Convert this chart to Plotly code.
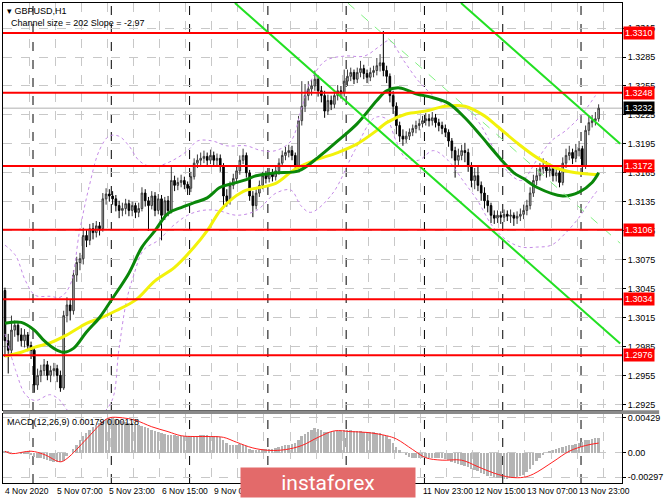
import plotly.graph_objects as go

# ---------------- data ----------------
first_open = 1.3043
close = [1.2991, 1.2981, 1.3002, 1.3007, 1.2997, 1.2991, 1.2997, 1.2986, 1.2981, 1.2945,
         1.2955, 1.2960, 1.2966, 1.2955, 1.2960, 1.2962, 1.2955, 1.2942, 1.3017, 1.3028,
         1.3022, 1.3059, 1.3072, 1.3076, 1.3100, 1.3095, 1.3107, 1.3103, 1.3110, 1.3107,
         1.3138, 1.3143, 1.3141, 1.3138, 1.3131, 1.3126, 1.3128, 1.3133, 1.3126, 1.3131,
         1.3124, 1.3128, 1.3144, 1.3136, 1.3131, 1.3141, 1.3126, 1.3138, 1.3121, 1.3136,
         1.3126, 1.3157, 1.3152, 1.3155, 1.3157, 1.3153, 1.3149, 1.3161, 1.3175, 1.3178,
         1.3180, 1.3182, 1.3178, 1.3183, 1.3178, 1.3180, 1.3172, 1.3141, 1.3136, 1.3152,
         1.3159, 1.3167, 1.3178, 1.3183, 1.3165, 1.3141, 1.3131, 1.3144, 1.3152, 1.3162,
         1.3159, 1.3165, 1.3161, 1.3167, 1.3175, 1.3183, 1.3186, 1.3188, 1.3183, 1.3172,
         1.3219, 1.3234, 1.3245, 1.3252, 1.3255, 1.3262, 1.3250, 1.3245, 1.3229, 1.3240,
         1.3236, 1.3245, 1.3250, 1.3248, 1.3260, 1.3265, 1.3269, 1.3262, 1.3269, 1.3273,
         1.3268, 1.3264, 1.3269, 1.3271, 1.3276, 1.3279, 1.3271, 1.3265, 1.3245, 1.3234,
         1.3214, 1.3203, 1.3200, 1.3203, 1.3207, 1.3211, 1.3214, 1.3216, 1.3219, 1.3221,
         1.3219, 1.3222, 1.3217, 1.3214, 1.3211, 1.3207, 1.3198, 1.3188, 1.3178, 1.3183,
         1.3188, 1.3186, 1.3172, 1.3157, 1.3162, 1.3152, 1.3144, 1.3136, 1.3131, 1.3121,
         1.3118, 1.3121, 1.3119, 1.3122, 1.3120, 1.3121, 1.3118, 1.3120, 1.3122, 1.3126,
         1.3131, 1.3144, 1.3157, 1.3162, 1.3169, 1.3172, 1.3167, 1.3169, 1.3162, 1.3165,
         1.3155, 1.3175, 1.3183, 1.3186, 1.3180, 1.3188, 1.3190, 1.3172, 1.3209, 1.3217,
         1.3219, 1.3221, 1.3232]
high = [1.3046, 1.2998, 1.3017, 1.3012, 1.3010, 1.3004, 1.3003, 1.3000, 1.2990, 1.2985,
        1.2962, 1.2966, 1.2972, 1.2970, 1.2965, 1.2968, 1.2966, 1.2960, 1.3022, 1.3036,
        1.3034, 1.3064, 1.3078, 1.3082, 1.3108, 1.3106, 1.3112, 1.3113, 1.3115, 1.3114,
        1.3144, 1.3149, 1.3148, 1.3146, 1.3142, 1.3136, 1.3134, 1.3138, 1.3137, 1.3135,
        1.3134, 1.3134, 1.3150, 1.3148, 1.3140, 1.3146, 1.3145, 1.3143, 1.3142, 1.3140,
        1.3141, 1.3172, 1.3162, 1.3160, 1.3163, 1.3161, 1.3156, 1.3166, 1.3180, 1.3184,
        1.3186, 1.3188, 1.3186, 1.3189, 1.3187, 1.3185, 1.3184, 1.3175, 1.3148, 1.3156,
        1.3164, 1.3172, 1.3183, 1.3190, 1.3186, 1.3168, 1.3146, 1.3149, 1.3157, 1.3166,
        1.3167, 1.3170, 1.3169, 1.3172, 1.3180, 1.3188, 1.3192, 1.3194, 1.3193, 1.3186,
        1.3224, 1.3260, 1.3257, 1.3260, 1.3262, 1.3271, 1.3266, 1.3255, 1.3250, 1.3246,
        1.3245, 1.3250, 1.3256, 1.3255, 1.3272, 1.3272, 1.3274, 1.3272, 1.3274, 1.3281,
        1.3277, 1.3272, 1.3274, 1.3276, 1.3284, 1.3288, 1.3312, 1.3276, 1.3268, 1.3250,
        1.3238, 1.3218, 1.3210, 1.3208, 1.3211, 1.3215, 1.3219, 1.3221, 1.3224, 1.3227,
        1.3226, 1.3228, 1.3226, 1.3221, 1.3218, 1.3215, 1.3210, 1.3201, 1.3192, 1.3190,
        1.3194, 1.3196, 1.3190, 1.3176, 1.3170, 1.3172, 1.3156, 1.3150, 1.3142, 1.3134,
        1.3126, 1.3126, 1.3125, 1.3127, 1.3126, 1.3127, 1.3124, 1.3125, 1.3128, 1.3132,
        1.3137, 1.3150, 1.3163, 1.3170, 1.3175, 1.3180, 1.3177, 1.3175, 1.3173, 1.3172,
        1.3168, 1.3181, 1.3190, 1.3193, 1.3190, 1.3195, 1.3198, 1.3193, 1.3214, 1.3224,
        1.3225, 1.3228, 1.3236]
low = [1.2974, 1.2957, 1.2975, 1.2995, 1.2990, 1.2985, 1.2984, 1.2980, 1.2972, 1.2937,
       1.2940, 1.2948, 1.2955, 1.2950, 1.2948, 1.2954, 1.2948, 1.2938, 1.2940, 1.3010,
       1.3012, 1.3018, 1.3052, 1.3064, 1.3070, 1.3088, 1.3090, 1.3096, 1.3098, 1.3100,
       1.3104, 1.3132, 1.3135, 1.3132, 1.3125, 1.3118, 1.3120, 1.3122, 1.3120, 1.3120,
       1.3118, 1.3119, 1.3125, 1.3130, 1.3105, 1.3127, 1.3120, 1.3122, 1.3095, 1.3116,
       1.3120, 1.3123, 1.3146, 1.3147, 1.3150, 1.3148, 1.3142, 1.3145, 1.3158, 1.3170,
       1.3173, 1.3175, 1.3172, 1.3174, 1.3172, 1.3172, 1.3166, 1.3129, 1.3130, 1.3132,
       1.3148, 1.3155, 1.3163, 1.3174, 1.3160, 1.3136, 1.3119, 1.3127, 1.3140, 1.3148,
       1.3154, 1.3155, 1.3156, 1.3157, 1.3163, 1.3171, 1.3178, 1.3181, 1.3178, 1.3167,
       1.3169, 1.3214, 1.3228, 1.3240, 1.3245, 1.3250, 1.3244, 1.3238, 1.3222, 1.3225,
       1.3230, 1.3232, 1.3240, 1.3242, 1.3244, 1.3255, 1.3260, 1.3257, 1.3258, 1.3264,
       1.3262, 1.3258, 1.3260, 1.3264, 1.3266, 1.3270, 1.3265, 1.3258, 1.3238, 1.3226,
       1.3205, 1.3197, 1.3193, 1.3196, 1.3199, 1.3203, 1.3206, 1.3209, 1.3212, 1.3214,
       1.3213, 1.3214, 1.3212, 1.3208, 1.3205, 1.3202, 1.3192, 1.3180, 1.3160, 1.3173,
       1.3178, 1.3176, 1.3166, 1.3150, 1.3148, 1.3146, 1.3136, 1.3128, 1.3124, 1.3113,
       1.3112, 1.3113, 1.3112, 1.3114, 1.3115, 1.3113, 1.3110, 1.3112, 1.3115, 1.3117,
       1.3121, 1.3127, 1.3140, 1.3152, 1.3157, 1.3164, 1.3160, 1.3161, 1.3156, 1.3156,
       1.3150, 1.3152, 1.3170, 1.3178, 1.3174, 1.3176, 1.3182, 1.3165, 1.3169, 1.3204,
       1.3212, 1.3214, 1.3218]
open_ = [first_open] + close[:-1]
bars = list(range(len(close)))

green_ma_idx = [0, 5, 9, 12, 15, 18, 21, 25, 29, 33, 38, 42, 46, 50, 54, 58, 62, 66, 70, 74, 77,
                83, 90, 96, 102, 108, 114, 117, 121, 126, 131, 136, 141, 146, 151, 156, 159,
                163, 171, 176, 180, 182]
green_ma = [1.3009, 1.3010, 1.3002, 1.2991, 1.2983, 1.2979, 1.2983, 1.3000, 1.3015, 1.3035,
            1.3061, 1.3088, 1.3105, 1.3123, 1.3129, 1.3134, 1.3139, 1.3150, 1.3154, 1.3158,
            1.3162, 1.3165, 1.3167, 1.3181, 1.3198, 1.3216, 1.3240, 1.3250, 1.3253, 1.3247,
            1.3243, 1.3237, 1.3222, 1.3203, 1.3183, 1.3165, 1.3159, 1.3150, 1.3141, 1.3145,
            1.3155, 1.3165]
yellow_ma_idx = [0, 5, 9, 14, 19, 25, 29, 34, 40, 46, 52, 58, 62, 66, 70, 74, 77, 83, 89, 95,
                 102, 108, 114, 117, 123, 129, 135, 141, 147, 151, 157, 163, 169, 175, 182]
yellow_ma = [1.2975, 1.2979, 1.2984, 1.2989, 1.2997, 1.3009, 1.3014, 1.3022, 1.3033, 1.3053,
             1.3067, 1.3088, 1.3105, 1.3126, 1.3139, 1.3147, 1.3149, 1.3154, 1.3169, 1.3178,
             1.3186, 1.3195, 1.3209, 1.3217, 1.3226, 1.3229, 1.3234, 1.3234, 1.3224, 1.3213,
             1.3196, 1.3181, 1.3170, 1.3165, 1.3163]
band_up_idx = [0, 3.3, 6.3, 9.3, 13.9, 16.9, 19.9, 22.9, 25.9, 28.9, 31.9, 34.9, 38, 41, 44,
               47, 51.5, 56, 59, 63.6, 68, 74, 78.6, 83, 87.7, 90.7, 93.7, 98.2, 104.2, 110.2,
               114.8, 117.8, 122.3, 126.8, 131.3, 135.8, 140.4, 144.9, 149.4, 153.9, 158.4,
               163, 167.5, 172, 176.5, 181]
band_up = [1.3090, 1.3079, 1.3053, 1.3038, 1.3037, 1.3036, 1.3048, 1.3105, 1.3152, 1.3188,
           1.3203, 1.3203, 1.3193, 1.3178, 1.3172, 1.3172, 1.3178, 1.3188, 1.3198, 1.3198,
           1.3193, 1.3193, 1.3188, 1.3188, 1.3198, 1.3229, 1.3260, 1.3281, 1.3286, 1.3286,
           1.3296, 1.3302, 1.3281, 1.3260, 1.3245, 1.3234, 1.3234, 1.3219, 1.3193, 1.3167,
           1.3157, 1.3178, 1.3198, 1.3209, 1.3224, 1.3245]
band_lo_idx = [0, 3.3, 6.3, 9.3, 13.9, 16.9, 19.9, 28.9, 32.8, 34.9, 37.3, 39.5, 42.5, 47,
               51.5, 56, 60.5, 65.1, 71.1, 77.1, 83.1, 87.7, 90.7, 93.7, 100.3, 107.2, 113.3,
               116.9, 119.9, 122.9, 126.8, 131.3, 135.8, 140.4, 144.9, 149.4, 153.9, 158.4,
               163, 167.5, 172, 176.5, 179.3, 181.7]
band_lo = [1.2998, 1.2960, 1.2935, 1.2929, 1.2935, 1.2929, 1.2917, 1.2914, 1.2929, 1.2981,
           1.3033, 1.3059, 1.3085, 1.3095, 1.3110, 1.3121, 1.3126, 1.3126, 1.3121, 1.3126,
           1.3144, 1.3147, 1.3131, 1.3124, 1.3143, 1.3188, 1.3222, 1.3221, 1.3198, 1.3180,
           1.3178, 1.3188, 1.3178, 1.3157, 1.3136, 1.3110, 1.3095, 1.3088, 1.3088, 1.3090,
           1.3103, 1.3121, 1.3136, 1.3147]

channel_lower_idx = [70.5, 188.6]
channel_lower = [1.3341, 1.2988]
channel_upper_idx = [139.8, 188.6]
channel_upper = [1.3341, 1.3195]
channel_mid_idx = [105.1, 188.6]
channel_mid = [1.3341, 1.3092]

levels = [1.3310, 1.3248, 1.3172, 1.3106, 1.3034, 1.2976]
last_price = 1.3232
price_ticks = [1.2925, 1.2955, 1.2985, 1.3015, 1.3045, 1.3075, 1.3105, 1.3135, 1.3165,
               1.3195, 1.3225, 1.3255, 1.3285, 1.3315]

macd_hist = [0.0001, 0.0001, 0.0000, 0.0000, 0.0000, -0.0001, -0.0001, -0.0002,
             -0.0003, -0.0005, -0.0006, -0.0007, -0.0008, -0.0009, -0.0010, -0.0011,
             -0.0011, -0.0011, -0.0010, -0.0004,
             0.0000, 0.0005, 0.0010, 0.0015, 0.0020, 0.0024, 0.0028, 0.0031, 0.0034,
             0.0036, 0.0039, 0.0041, 0.0042, 0.0042, 0.0041, 0.0040, 0.0039, 0.0038,
             0.0037, 0.0036, 0.0035, 0.0034, 0.0033, 0.0031, 0.0030, 0.0028, 0.0027, 0.0026,
             0.0024, 0.0023, 0.0022, 0.0022, 0.0022, 0.0021, 0.0021, 0.0020, 0.0020,
             0.0020, 0.0021, 0.0021, 0.0022, 0.0022, 0.0022, 0.0021, 0.0021, 0.0020, 0.0019,
             0.0015, 0.0012, 0.0010, 0.0010, 0.0010, 0.0011, 0.0010, 0.0008,
             0.0005, 0.0003, 0.0003, 0.0003, 0.0004, 0.0004, 0.0005, 0.0005,
             0.0006, 0.0007, 0.0008, 0.0009, 0.0010, 0.0011, 0.0012,
             0.0016, 0.0020, 0.0023, 0.0026, 0.0028, 0.0030,
             0.0029, 0.0028, 0.0026, 0.0026, 0.0026, 0.0027, 0.0027, 0.0027, 0.0028, 0.0028,
             0.0028, 0.0027, 0.0027, 0.0027, 0.0026, 0.0025, 0.0025,
             0.0025, 0.0024, 0.0024, 0.0022, 0.0020, 0.0017,
             0.0012, 0.0007, 0.0003, 0.0000, -0.0003, -0.0005, -0.0006, -0.0007,
             -0.0007, -0.0007, -0.0007, -0.0007, -0.0006, -0.0006, -0.0007, -0.0007, -0.0008,
             -0.0009, -0.0011, -0.0013,
             -0.0014, -0.0015, -0.0016, -0.0018, -0.0020, -0.0021, -0.0023, -0.0025, -0.0026,
             -0.0028, -0.0029,
             -0.0030, -0.0031, -0.0031, -0.0032, -0.0032, -0.0031, -0.0031, -0.0030, -0.0029,
             -0.0027, -0.0024, -0.0020, -0.0015, -0.0010, -0.0006, -0.0003,
             0.0000, 0.0002, 0.0003, 0.0005, 0.0006, 0.0007, 0.0008,
             0.0009, 0.0010, 0.0011, 0.0012, 0.0013, 0.0015, 0.0016, 0.0017, 0.0018, 0.0018]
signal_idx = [0, 2, 8, 12, 17, 19, 25, 30, 32, 36, 40, 45, 50, 54, 58, 63, 67, 71, 76, 81, 86,
              91, 96, 101, 106, 111, 117, 120, 125, 129, 134, 140, 145, 150, 155, 159, 162,
              168, 173, 178, 182]
signal = [0.0002, -0.0001, 0.0002, -0.0002, -0.0011, -0.0007, 0.0017, 0.0038, 0.0043, 0.0043,
          0.0040, 0.0032, 0.0026, 0.0021, 0.0020, 0.0020, 0.0019, 0.0013, 0.0006, 0.0003,
          0.0004, 0.0009, 0.0019, 0.0027, 0.0026, 0.0025, 0.0021, 0.0017, 0.0004, -0.0006,
          -0.0009, -0.0009, -0.0017, -0.0025, -0.0030, -0.0030, -0.0026, -0.0011, 0.0002,
          0.0009, 0.0012]
macd_ticks = [0.00429, 0.0, -0.00297]
macd_tick_labels = ["0.00429", "0.00", "-0.00297"]

# visible time labels (the ones under the watermark are not shown in the reference)
date_label_idx = [-0.6, 15.4, 31.4, 47.4, 63.4, 127.4, 143.4, 159.4, 175.4]
date_labels = ["4 Nov 2020", "5 Nov 07:00", "5 Nov 23:00", "6 Nov 15:00", "9 Nov 07:00",
               "11 Nov 23:00", "12 Nov 15:00", "13 Nov 07:00", "13 Nov 23:00"]
day_sep_idx = [8.6, 32.6, 56.6, 80.6, 104.6, 128.6, 152.6, 176.6]
grid_idx = [-0.6 + 8 * k for k in range(24)]

# ---------------- figure ----------------
FONT = "Liberation Sans"
fig = go.Figure()

fig.add_trace(go.Candlestick(
    x=bars, open=open_, high=high, low=low, close=close,
    increasing=dict(line=dict(color="#3a3a3a", width=1), fillcolor="#b8b8b8"),
    decreasing=dict(line=dict(color="#000000", width=1), fillcolor="#000000"),
    whiskerwidth=0, xaxis="x", yaxis="y", showlegend=False, hoverinfo="skip"))

for xs, ys in [(band_up_idx, band_up), (band_lo_idx, band_lo)]:
    fig.add_trace(go.Scatter(x=xs, y=ys, mode="lines", xaxis="x", yaxis="y",
                             line=dict(color="#c48ae6", width=1, dash="dot", shape="spline"),
                             showlegend=False, hoverinfo="skip"))

fig.add_trace(go.Scatter(x=yellow_ma_idx, y=yellow_ma, mode="lines", xaxis="x", yaxis="y",
                         line=dict(color="#f2f20a", width=3, shape="spline"),
                         showlegend=False, hoverinfo="skip"))
fig.add_trace(go.Scatter(x=green_ma_idx, y=green_ma, mode="lines", xaxis="x", yaxis="y",
                         line=dict(color="#0a870a", width=3, shape="spline"),
                         showlegend=False, hoverinfo="skip"))

fig.add_trace(go.Scatter(x=channel_mid_idx, y=channel_mid, mode="lines", xaxis="x", yaxis="y",
                         line=dict(color="#80f080", width=1, dash="dash"),
                         showlegend=False, hoverinfo="skip"))
for xs, ys in [(channel_lower_idx, channel_lower), (channel_upper_idx, channel_upper)]:
    fig.add_trace(go.Scatter(x=xs, y=ys, mode="lines", xaxis="x", yaxis="y",
                             line=dict(color="#22e022", width=2),
                             showlegend=False, hoverinfo="skip"))

fig.add_trace(go.Bar(x=bars, y=macd_hist, xaxis="x2", yaxis="y2", width=0.6,
                     marker=dict(color="#b4b4b4", line=dict(width=0)),
                     showlegend=False, hoverinfo="skip"))
fig.add_trace(go.Scatter(x=signal_idx, y=signal, mode="lines", xaxis="x2", yaxis="y2",
                         line=dict(color="#ff2020", width=1, shape="spline"),
                         showlegend=False, hoverinfo="skip"))

shapes = []
for s in day_sep_idx:
    shapes.append(dict(type="line", xref="x", yref="paper", x0=s, x1=s, y0=0, y1=1,
                       line=dict(color="#000000", width=1, dash="dash"), layer="below"))
shapes.append(dict(type="line", xref="paper", yref="y", x0=0, x1=1, y0=last_price,
                   y1=last_price, line=dict(color="#b0b0b0", width=1), layer="below"))
for lv in levels:
    shapes.append(dict(type="line", xref="paper", yref="y", x0=0, x1=1, y0=lv, y1=lv,
                       line=dict(color="#ff0000", width=2), layer="above"))
# panel separator
shapes.append(dict(type="rect", xref="paper", yref="paper", x0=0, x1=1.06, y0=0.1435,
                   y1=0.1518, fillcolor="#8a8a8a", line=dict(width=0), layer="above"))

annotations = []
for lv in levels:
    annotations.append(dict(xref="paper", yref="y", x=1, y=lv, xanchor="left", xshift=1,
                            text=f"{lv:.4f}", showarrow=False, bgcolor="#ff0000",
                            borderpad=1, font=dict(family=FONT, size=9, color="white")))
annotations.append(dict(xref="paper", yref="y", x=1, y=last_price, xanchor="left", xshift=1,
                        text=f"{last_price:.4f}", showarrow=False, bgcolor="#000000",
                        borderpad=1, font=dict(family=FONT, size=9, color="white")))
for xi, t in zip(date_label_idx, date_labels):
    annotations.append(dict(xref="x", yref="paper", x=xi, y=0, xanchor="left",
                            yanchor="top", yshift=-1, text=t, showarrow=False,
                            font=dict(family=FONT, size=8.5, color="black")))
annotations.append(dict(xref="paper", yref="paper", x=0.004, y=1, xanchor="left",
                        yanchor="top", yshift=-1, text="▾ GBPUSD,H1", showarrow=False,
                        font=dict(family=FONT, size=9, color="black")))
annotations.append(dict(xref="paper", yref="paper", x=0.009, y=1, xanchor="left",
                        yanchor="top", yshift=-13, text="Channel size = 202 Slope = -2.97",
                        showarrow=False, font=dict(family=FONT, size=9, color="black")))
annotations.append(dict(xref="paper", yref="paper", x=0.004, y=0.127, xanchor="left",
                        yanchor="middle", text="MACD(12,26,9) 0.00179 0.00118",
                        showarrow=False, font=dict(family=FONT, size=9, color="black")))
# watermark (drawn last so it covers the labels beneath, as in the reference)
annotations.append(dict(xref="paper", yref="paper", x=0.5254, y=0.001, xanchor="center",
                        yanchor="middle", text="instaforex", showarrow=False,
                        width=174, height=29, bgcolor="#e36a6a", borderpad=0,
                        font=dict(family="Roboto", size=21, color="white")))

axis_common = dict(showgrid=True, gridcolor="#c8c8c8", griddash="dash", gridwidth=1,
                   zeroline=False, showline=True, mirror=True, linecolor="#000000",
                   linewidth=1)

fig.update_layout(
    width=665, height=499,
    margin=dict(l=2, r=33, t=2, b=16),
    paper_bgcolor="white", plot_bgcolor="white",
    showlegend=False, bargap=0,
    xaxis=dict(domain=[0, 1], range=[-0.6, 189.16], anchor="y", tickvals=grid_idx,
               showticklabels=False, ticks="", rangeslider=dict(visible=False),
               **axis_common),
    yaxis=dict(domain=[0.1518, 1], range=[1.2919, 1.3341], side="right", anchor="x",
               tickvals=price_ticks, ticktext=[f"{v:.4f}" for v in price_ticks],
               ticks="outside", ticklen=3, tickcolor="#000000",
               tickfont=dict(family=FONT, size=9, color="black"), **axis_common),
    xaxis2=dict(domain=[0, 1], range=[-0.6, 189.16], anchor="y2", matches="x",
                tickvals=grid_idx, showticklabels=False, ticks="", **axis_common),
    yaxis2=dict(domain=[0, 0.1435], range=[-0.0037, 0.00475], side="right", anchor="x2",
                tickvals=macd_ticks, ticktext=macd_tick_labels, ticks="outside", ticklen=3,
                tickcolor="#000000", tickfont=dict(family=FONT, size=9, color="black"),
                **axis_common),
    shapes=shapes,
    annotations=annotations,
)

fig.write_html("out.html", config={"displayModeBar": False},
               post_script="document.body.style.margin='0';document.body.style.overflow='hidden';")
